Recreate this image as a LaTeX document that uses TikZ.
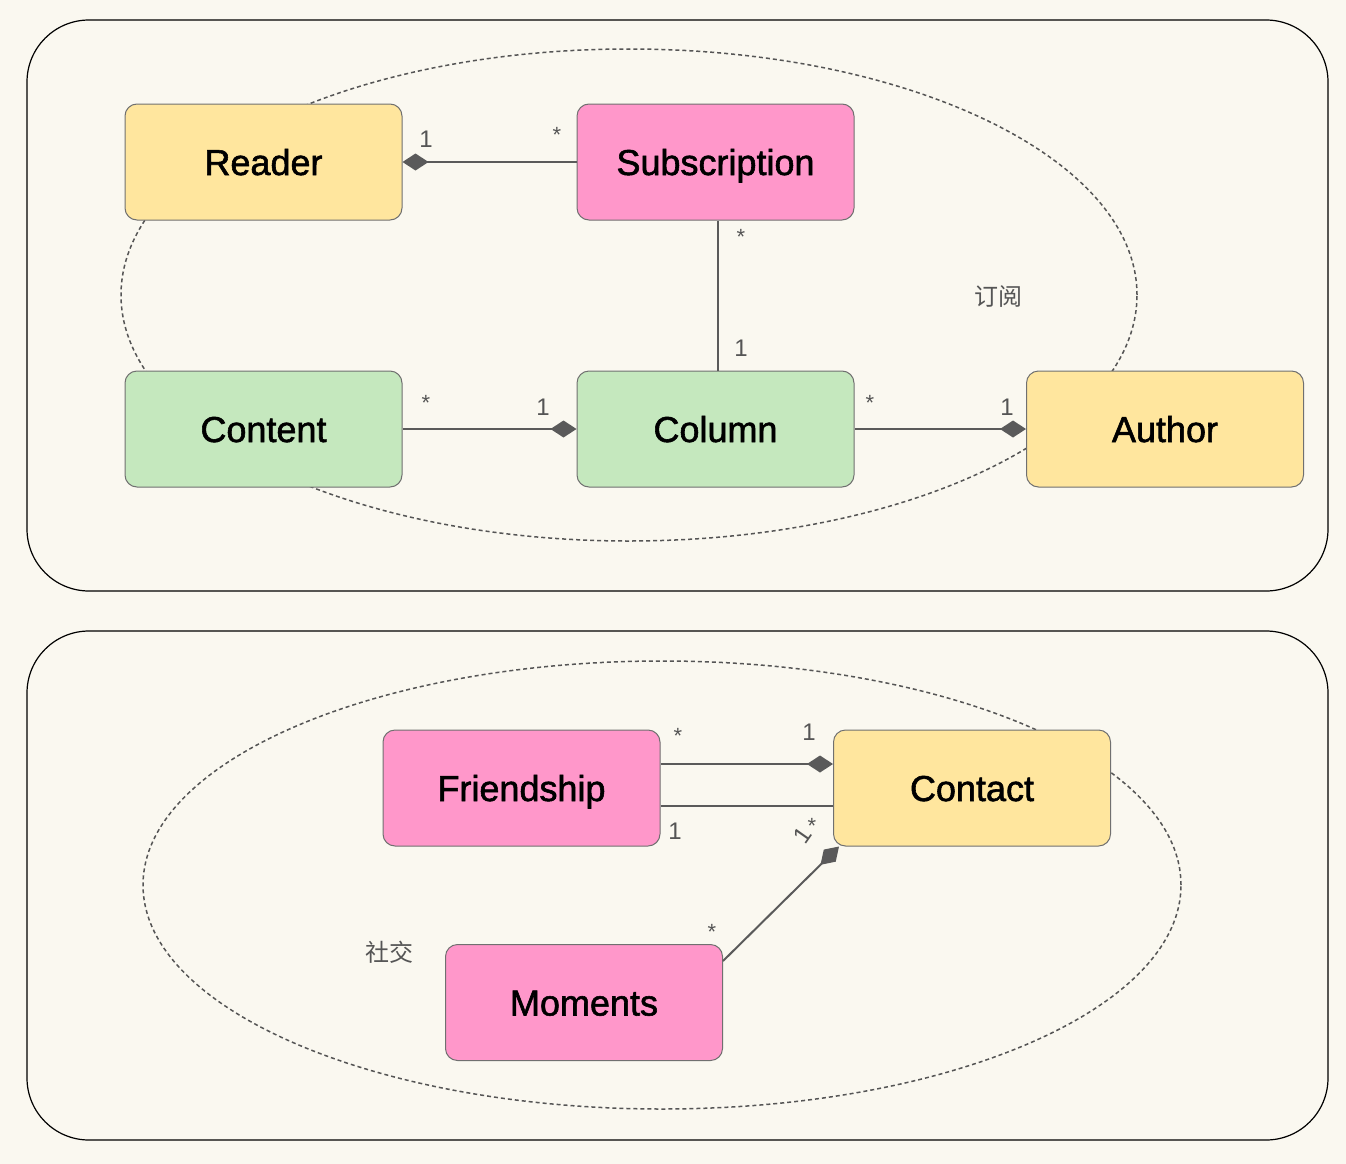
\documentclass[tikz,border=0pt]{standalone}
\usepackage{fontspec}
\setmainfont{Liberation Sans}
\newfontfamily\nodefont[FakeBold=1.6]{Liberation Sans}
\newfontfamily\cjk{Noto Sans CJK SC}
\usetikzlibrary{arrows.meta,shapes.geometric}
\definecolor{bgc}{HTML}{FAF8F0}
\definecolor{yel}{HTML}{FFE69E}
\definecolor{pnk}{HTML}{FF97CA}
\definecolor{grn}{HTML}{C5E8BE}
\definecolor{bord}{HTML}{707070}
\definecolor{linec}{HTML}{5A5A5A}
\definecolor{labc}{HTML}{555555}
\tikzset{
  box/.style={draw=bord, line width=1pt, rounded corners=12pt, minimum width=277pt, minimum height=116pt, inner sep=0pt, text height=26pt, text depth=0pt, font=\nodefont\fontsize{36}{42}\selectfont, text=black},
  panel/.style={draw=black, line width=1.2pt, rounded corners=62pt, fill=bgc},
  ell/.style={draw=labc, dash pattern=on 4pt off 3pt, line width=1.5pt},
  conn/.style={draw=linec, line width=2pt},
  dia/.style={{Diamond[length=26pt,width=17pt]}-},
  lab/.style={text=labc, font=\fontsize{24}{28}\selectfont, inner sep=0pt},
  star/.style={text=labc, font=\fontsize{22}{26}\selectfont, inner sep=0pt},
  zh/.style={text=labc, font=\cjk\fontsize{24}{28}\selectfont, inner sep=0pt}
}
\begin{document}
\begin{tikzpicture}[x=1pt,y=-1pt]
\useasboundingbox (0,0) rectangle (1346,1164);
\fill[bgc] (0,0) rectangle (1346,1164);
% panels
\draw[panel] (27,20) rectangle (1328,591);
\draw[panel] (27,631) rectangle (1328,1140);
% ellipses
\draw[ell] (629,295) ellipse [x radius=508pt, y radius=246pt];
\draw[ell] (662,885) ellipse [x radius=519pt, y radius=224pt];
% nodes top
\node[box, fill=yel] (reader) at (263.5,162) {Reader};
\node[box, fill=pnk] (subscr) at (715.5,162) {Subscription};
\node[box, fill=grn] (content) at (263.5,429) {Content};
\node[box, fill=grn] (column) at (715.5,429) {Column};
\node[box, fill=yel] (author) at (1165,429) {Author};
% nodes bottom
\node[box, fill=pnk] (friend) at (521.5,788) {Friendship};
\node[box, fill=yel] (contact) at (972,788) {Contact};
\node[box, fill=pnk] (moments) at (584,1002.5) {Moments};
% connectors
\draw[conn, dia] (reader.east) -- (subscr.west);
\draw[conn] ([xshift=2.5pt]subscr.south) -- ([xshift=2.5pt]column.north);
\draw[conn, dia] (column.west) -- (content.east);
\draw[conn, dia] (author.west) -- (column.east);
\draw[conn, dia] ([yshift=24pt]contact.west) -- ([yshift=24pt]friend.east);
\draw[conn] ([yshift=-18pt]friend.east) -- ([yshift=-18pt]contact.west);
\draw[conn, dia] ([xshift=6pt]contact.south west) -- ([yshift=-17pt]moments.north east);
% multiplicity labels
\node[lab] (l1) at (426,139) {1};
\node[star] (l2) at (557,135) {*};
\node[star] (l3) at (741,237) {*};
\node[lab] (l4) at (741,348) {1};
\node[star] (l5) at (426,403) {*};
\node[lab] (l6) at (543,407) {1};
\node[star] (l7) at (870,403) {*};
\node[lab] (l8) at (1007,407) {1};
\node[star] (l9) at (678,736) {*};
\node[lab] (l10) at (809,732) {1};
\node[lab] (l11) at (675,831) {1};
\node[lab, rotate=55] (l12) at (803,835) {1};
\node[star] (l13) at (812,826) {*};
\node[star] (l14) at (712,932) {*};
% region labels
\node[zh] (t1) at (998,297) {订阅};
\node[zh] (t2) at (389,952) {社交};
\end{tikzpicture}
\end{document}
